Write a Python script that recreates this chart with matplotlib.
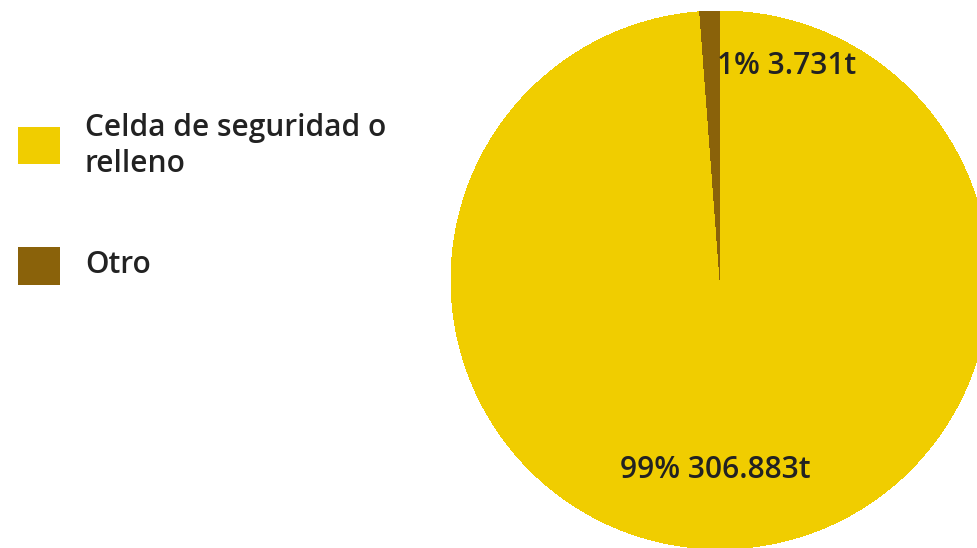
import matplotlib
matplotlib.use("Agg")
import matplotlib.pyplot as plt
from matplotlib.patches import Rectangle

categories = ["Celda de seguridad o\nrelleno", "Otro"]
values = [306883, 3731]
value_labels = ["99% 306.883t", "1% 3.731t"]
colors = ["#F0CD00", "#8A620A"]

W, H = 978, 548
fig = plt.figure(figsize=(W / 100, H / 100), dpi=100)
fig.patch.set_facecolor("white")

cx, cy, r = 720, 280, 269
ax = fig.add_axes([(cx - r) / W, (H - cy - r) / H, 2 * r / W, 2 * r / H])
wedges, _ = ax.pie(values, colors=colors, startangle=90, counterclock=False,
                   wedgeprops=dict(linewidth=0, antialiased=False))
for w in wedges:
    w.set_clip_on(False)
ax.set_xlim(-1, 1)
ax.set_ylim(-1, 1)
ax.set_aspect("equal")
ax.axis("off")

font = "Open Sans"
txtc = "#222222"
fs = 21.5
ax.text(0.247, 0.796, value_labels[1], ha="center", va="center",
        fontsize=fs, color=txtc, family=font, weight=600)
ax.text(-0.019, -0.706, value_labels[0], ha="center", va="center",
        fontsize=fs, color=txtc, family=font, weight=600)

# legend
sq = [(18, 127, 42, 37), (18, 247, 42, 38)]
text_y = [146, 265]
for (x, y, w, h), c, lab, ty in zip(sq, colors, categories, text_y):
    fig.add_artist(Rectangle((x / W, 1 - (y + h) / H), w / W, h / H,
                             transform=fig.transFigure, color=c, lw=0))
    fig.text(85 / W, 1 - ty / H, lab, ha="left", va="center", fontsize=fs,
             color=txtc, family=font, weight=600, linespacing=1.28)

fig.savefig("out.png", dpi=100)
